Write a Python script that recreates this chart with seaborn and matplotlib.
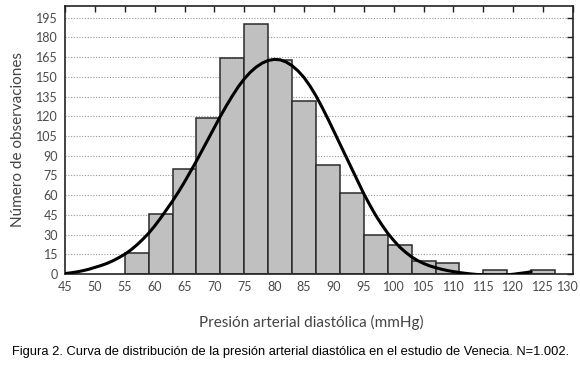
import matplotlib
matplotlib.use('Agg')
import matplotlib.pyplot as plt
import matplotlib.transforms as mtransforms
import seaborn as sns

# histogram: bin edges (width 4 mmHg) and counts
bin_edges = [55, 59, 63, 67, 71, 75, 79, 83, 87, 91, 95, 99, 103, 107, 111, 115, 119, 123, 127]
counts = [16, 46, 80, 119, 164, 190, 163, 132, 83, 62, 30, 22, 10, 8, 0, 3, 0, 3]

# fitted distribution curve at every mmHg
curve_x = list(range(45, 124))
curve_y = [0.3, 0.9, 1.6, 2.5, 3.6, 5.0, 6.4, 8.0, 10.0, 12.4,
           15.0, 18.2, 22.0, 26.3, 31.0, 36.5, 42.5, 49.0, 55.5, 62.5,
           70.0, 78.0, 86.0, 94.5, 103.0, 111.5, 120.0, 128.0, 135.5, 142.5,
           148.5, 153.5, 157.5, 160.5, 162.5, 163.3, 163.0, 161.3, 158.5, 154.5,
           149.5, 143.0, 135.5, 127.0, 118.0, 108.5, 99.0, 89.5, 80.0, 70.5,
           61.0, 52.5, 44.5, 37.5, 31.0, 25.5, 20.5, 16.5, 13.0, 10.2,
           8.0, 6.2, 4.8, 3.6, 2.6, 1.8, 1.1, 0.5, 0.0, -0.4,
           -0.7, -0.9, -1.0, -0.9, -0.6, -0.2, 0.4, 1.0, 1.7]

x_ticks = list(range(45, 131, 5))
y_ticks = list(range(0, 196, 15))

sns.set_style('white')
plt.rcParams['font.family'] = ['Lato', 'DejaVu Sans']

fig = plt.figure(figsize=(5.8, 3.7), dpi=100)
ax = fig.add_axes([0.112, 0.2595, 0.876, 0.7245])

# dotted horizontal grid
for v in y_ticks[1:]:
    ax.axhline(v, color='#999999', lw=0.8, ls=(0, (1, 1.5)), zorder=0)

centers = [(a + b) / 2 for a, b in zip(bin_edges[:-1], bin_edges[1:])]
sns.histplot(x=centers, weights=counts, bins=bin_edges, color='#c0c0c0',
             edgecolor='#2a2a2a', linewidth=1.1, alpha=1, ax=ax, zorder=2)

sns.lineplot(x=curve_x, y=curve_y, color='black', lw=2.2, ax=ax, zorder=3)

ax.set_xlim(45, 130)
ax.set_ylim(0, 204)
ax.set_xticks(x_ticks)
ax.set_yticks(y_ticks)
ax.tick_params(direction='in', length=4, width=1, colors='#222222',
               top=True, right=True, labelsize=9, labelcolor='#4a4a4a', pad=5)
for s in ax.spines.values():
    s.set_color('#222222')
    s.set_linewidth(1.2)

# pull the last x label in a little so it stays inside the figure
last = ax.get_xticklabels()[-1]
last.set_transform(last.get_transform() +
                   mtransforms.ScaledTranslation(-5 / 100, 0, fig.dpi_scale_trans))

ax.set_xlabel('')
ax.set_ylabel('Número de observaciones', fontsize=11, color='#444444', labelpad=8)

fig.text(311 / 580, 1 - 322 / 370, 'Presión arterial diastólica (mmHg)',
         ha='center', va='center', fontsize=11, color='#444444')
fig.text(291 / 580, 1 - 352 / 370,
         'Figura 2. Curva de distribución de la presión arterial diastólica en el estudio de Venecia. N=1.002.',
         ha='center', va='center', fontsize=9.3, color='black', family='Liberation Sans')

fig.savefig('out.png', dpi=100)
